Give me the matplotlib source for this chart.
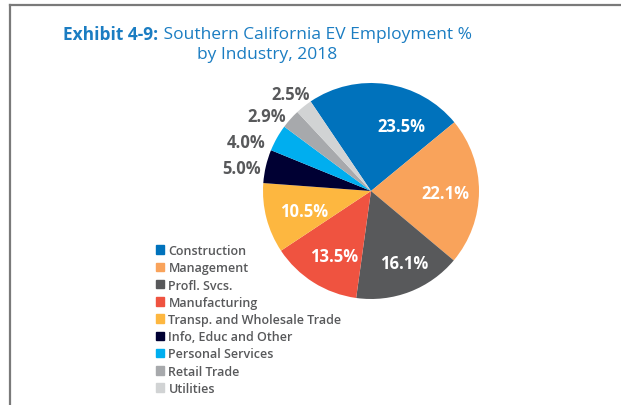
import matplotlib
matplotlib.use("Agg")
import matplotlib.pyplot as plt
from matplotlib.lines import Line2D
import numpy as np

categories = ["Construction", "Management", "Profl. Svcs.", "Manufacturing",
              "Transp. and Wholesale Trade", "Info, Educ and Other",
              "Personal Services", "Retail Trade", "Utilities"]
values = [23.5, 22.1, 16.1, 13.5, 10.5, 5.0, 4.0, 2.9, 2.5]
labels = ["23.5%", "22.1%", "16.1%", "13.5%", "10.5%", "5.0%", "4.0%", "2.9%", "2.5%"]
colors = ["#0072BC", "#F9A35B", "#58595B", "#EF5340", "#FDB740",
          "#000033", "#00AEEF", "#A7A9AC", "#D1D3D4"]

plt.rcParams['font.family'] = ['Open Sans', 'DejaVu Sans']

fig = plt.figure(figsize=(6.21, 4.06), dpi=100)
W, H = 621, 406

# frame lines
fig.add_artist(Line2D([10 / W, 1], [1 - 6 / H, 1 - 6 / H], color="#7a7a7a", lw=1.6))
fig.add_artist(Line2D([10 / W, 10 / W], [1 - 6 / H, 0], color="#7a7a7a", lw=1.6))

# title with mixed weights
title_color = "#1B7DC2"
renderer = fig.canvas.get_renderer()
t1 = fig.text(0, 1 - 35 / H, "Exhibit 4-9:", fontsize=12.5, fontweight="bold",
              color=title_color, va="center", ha="left")
t2 = fig.text(0, 1 - 35 / H, " Southern California EV Employment %", fontsize=12.5,
              fontweight="medium", color=title_color, va="center", ha="left")
w1 = t1.get_window_extent(renderer).width
w2 = t2.get_window_extent(renderer).width
x0 = (267.5 - (w1 + w2) / 2)
t1.set_x(x0 / W)
t2.set_x((x0 + w1) / W)
fig.text(267.5 / W, 1 - 55 / H, "by Industry, 2018", fontsize=12.5, fontweight="medium",
         color=title_color, va="center", ha="center")

# pie
cx, cy, r = 371, 192, 108
ax = fig.add_axes([(cx - r) / W, 1 - (cy + r) / H, 2 * r / W, 2 * r / H])
wedges, _ = ax.pie(values, colors=colors, startangle=124, counterclock=False,
                   radius=1.0, wedgeprops=dict(linewidth=0))
ax.set_xlim(-1, 1)
ax.set_ylim(-1, 1)
ax.set_aspect("equal")
ax.axis("off")

inside_r = [0.68, 0.69, 0.72, 0.68, 0.64]
inside_shift = [-16, 0, 4, 2, 0]
outside_r = [1.22, 1.25, 1.20, 1.18]
outside_shift = [2.2, 7.4, 5.5, 0.5]
for i, w in enumerate(wedges):
    mid = (w.theta1 + w.theta2) / 2
    if i < 5:
        a = np.deg2rad(mid + inside_shift[i])
        rr = inside_r[i]
        ax.text(rr * np.cos(a), rr * np.sin(a), labels[i], color="white",
                fontsize=12, fontweight="bold", ha="center", va="center_baseline")
    else:
        j = i - 5
        a = np.deg2rad(mid + outside_shift[j])
        rr = outside_r[j]
        ax.text(rr * np.cos(a), rr * np.sin(a), labels[i], color="#58595B",
                fontsize=12, fontweight="bold", ha="center", va="center_baseline",
                clip_on=False)

# legend
handles = [plt.Rectangle((0, 0), 1, 1, color=c) for c in colors]
leg = fig.legend(handles, categories, loc="upper left",
                 bbox_to_anchor=(151 / W, 1 - 240 / H), frameon=False,
                 fontsize=9, handlelength=0.65, handleheight=0.65,
                 handletextpad=0.35, labelspacing=0.34, borderaxespad=0)
for t in leg.get_texts():
    t.set_color("#58595B")
    t.set_fontweight("semibold")

fig.savefig("out.png", dpi=100)
